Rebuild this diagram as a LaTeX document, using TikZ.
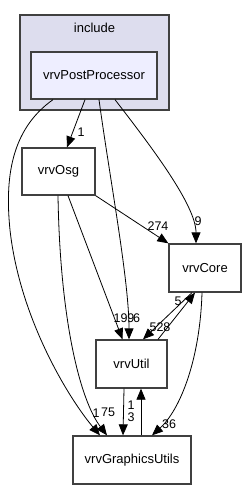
\documentclass[tikz,border=0pt]{standalone}
\usepackage{fontspec}
\setmainfont{Liberation Sans}
\usetikzlibrary{arrows.meta,backgrounds}
\definecolor{clusterfill}{HTML}{DDDDEE}
\definecolor{dirfill}{HTML}{EEEEFF}
\definecolor{dirline}{HTML}{404040}

\begin{document}
\begin{tikzpicture}[x=1pt,y=-1pt,
  dir/.style={draw=dirline, line width=1.3pt, fill=white, font=\fontsize{13}{15}\selectfont, inner sep=0pt},
  dep/.style={-{Triangle[length=11pt,width=9pt]}, black, line width=0.8pt},
  num/.style={font=\fontsize{12.5}{14}\selectfont, inner sep=0pt}]
\useasboundingbox (0,0) rectangle (247,489);
\fill[white] (0,0) rectangle (247,489);
% Cluster
\draw[dirline, line width=1.3pt, fill=clusterfill] (20,15) rectangle (169,110);
\node[font=\fontsize{13}{15}\selectfont] (incl) at (94.5,28) {include};
% Directory nodes
\node[dir, fill=dirfill, minimum width=126pt, minimum height=47pt] (pp) at (94,75.5) {vrvPostProcessor};
\node[dir, minimum width=73pt, minimum height=47pt] (osg) at (58.5,171.5) {vrvOsg};
\node[dir, minimum width=72pt, minimum height=48pt] (core) at (205,268) {vrvCore};
\node[dir, minimum width=71pt, minimum height=48pt] (util) at (131.5,364) {vrvUtil};
\node[dir, minimum width=118pt, minimum height=48pt] (gu) at (132,460) {vrvGraphicsUtils};
% Dependencies of vrvPostProcessor
\draw[dep] ([xshift=-9pt]pp.south) -- ([xshift=8.5pt]osg.north);
\node[num] (l1) at (81,132) {1};
\draw[dep] ([xshift=21pt]pp.south) .. controls (150,145) and (196,205) .. ([xshift=-9pt]core.north);
\node[num] (l9) at (198,221) {9};
\draw[dep] ([xshift=5pt]pp.south) .. controls (110,180) and (129,280) .. ([xshift=-2.5pt]util.north);
\node[num] (l6) at (136.5,318) {6};
\draw[dep] ([xshift=-41pt]pp.south) .. controls (10,130) and (5,180) .. (10,230)
  .. controls (20,320) and (70,400) .. ([xshift=-32pt]gu.north);
\node[num] (l1b) at (96,413) {1};
% Dependencies of vrvOsg
\draw[dep] (osg.south east) -- (core.north west);
\node[num] (l274) at (158,226) {274};
\draw[dep] ([xshift=9.5pt]osg.south) -- ([xshift=-9pt]util.north);
\node[num] (l199) at (124,318) {199};
\draw[dep] ([xshift=-0.5pt]osg.south) .. controls (60,320) and (80,400) .. ([xshift=-25pt]gu.north);
\node[num] (l75) at (108,412) {75};
% vrvCore and vrvUtil
\draw[dep] ([xshift=-13pt]core.south) -- ([xshift=11.5pt]util.north);
\node[num] (l528) at (160,327) {528};
\draw[dep] ([xshift=26.5pt]util.north) -- ([xshift=-10pt]core.south);
\node[num] (l5) at (178,301) {5};
\draw[dep] ([xshift=-3pt]core.south) .. controls (200,360) and (180,410) .. ([xshift=20pt]gu.north);
\node[num] (l36) at (169,424) {36};
% vrvUtil and vrvGraphicsUtils
\draw[dep] ([xshift=-7.5pt]util.south) -- ([xshift=-9pt]gu.north);
\node[num] (l3) at (131,417) {3};
\draw[dep] ([xshift=9pt]gu.north) -- ([xshift=9.5pt]util.south);
\node[num] (l1c) at (131,405) {1};
\end{tikzpicture}
\end{document}
